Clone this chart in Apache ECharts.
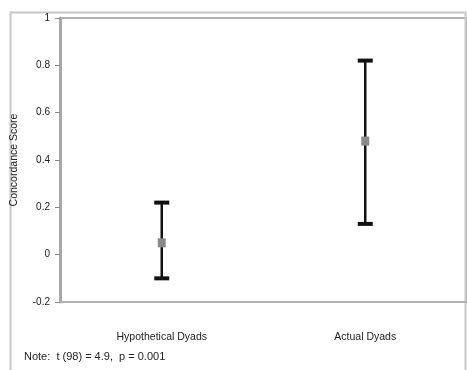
<!DOCTYPE html>
<html>
<head>
<meta charset="utf-8">
<script src="https://cdn.jsdelivr.net/npm/echarts@6/dist/echarts.min.js"></script>
<style>
html, body { margin: 0; padding: 0; background: #fff; }
#chart { width: 467px; height: 370px; }
</style>
</head>
<body>
<div id="chart"></div>
<script>
var categories = ['Hypothetical Dyads', 'Actual Dyads'];
var means = [0.05, 0.48];
var lower = [-0.10, 0.13];
var upper = [0.22, 0.82];
var yTicks = [-0.2, 0, 0.2, 0.4, 0.6, 0.8, 1];

var chart = echarts.init(document.getElementById('chart'));

var barData = categories.map(function (c, i) {
    return [i, means[i], lower[i], upper[i]];
});

option = {
    backgroundColor: '#fff',
    animation: false,
    textStyle: { fontFamily: 'Liberation Sans, Arial, sans-serif' },
    graphic: [
        {
            type: 'rect',
            left: 8, top: 10,
            shape: { width: 455, height: 380 },
            style: { fill: 'none', stroke: '#c8c8c8', lineWidth: 2 },
            silent: true
        },
        {
            type: 'text',
            left: 24, top: 351,
            style: { text: 'Note:  t (98) = 4.9,  p = 0.001', fill: '#222', fontSize: 11, fontFamily: 'Liberation Sans, Arial, sans-serif' }
        }
    ],
    grid: {
        left: 60, top: 18, right: -10, bottom: 68,
        show: true,
        borderColor: '#b0b0b0',
        borderWidth: 2
    },
    xAxis: {
        type: 'category',
        data: categories,
        axisLine: { onZero: false, lineStyle: { color: '#b0b0b0', width: 2 } },
        axisTick: { show: false },
        axisLabel: { color: '#222', fontSize: 10.5, margin: 30 }
    },
    yAxis: {
        type: 'value',
        min: -0.2, max: 1, interval: 0.2,
        name: 'Concordance Score',
        nameLocation: 'middle',
        nameGap: 40,
        nameTextStyle: { color: '#222', fontSize: 10.5 },
        axisLine: { show: true, lineStyle: { color: '#a8a8a8', width: 3 } },
        axisTick: { show: true, length: 5, lineStyle: { color: '#888' } },
        splitLine: { show: false },
        axisLabel: {
            color: '#222', fontSize: 10, margin: 10,
            formatter: function (v) {
                var r = Math.round(v * 10) / 10;
                return yTicks.indexOf(r) >= 0 ? String(r) : '';
            }
        }
    },
    series: [{
        type: 'custom',
        data: barData,
        renderItem: function (params, api) {
            var x = api.value(0);
            var pm = api.coord([x, api.value(1)]);
            var pl = api.coord([x, api.value(2)]);
            var pu = api.coord([x, api.value(3)]);
            var cx = pm[0];
            var capW = 15;
            return {
                type: 'group',
                children: [
                    {
                        type: 'line',
                        shape: { x1: cx, y1: pu[1], x2: cx, y2: pl[1] },
                        style: { stroke: '#111', lineWidth: 2.5 }
                    },
                    {
                        type: 'rect',
                        shape: { x: cx - capW / 2, y: pu[1] - 2, width: capW, height: 4 },
                        style: { fill: '#111' }
                    },
                    {
                        type: 'rect',
                        shape: { x: cx - capW / 2, y: pl[1] - 2, width: capW, height: 4 },
                        style: { fill: '#111' }
                    },
                    {
                        type: 'rect',
                        shape: { x: cx - 4, y: pm[1] - 4.5, width: 8, height: 9 },
                        style: { fill: '#8a8a8a' }
                    }
                ]
            };
        }
    }]
};

chart.setOption(option);
</script>
</body>
</html>
